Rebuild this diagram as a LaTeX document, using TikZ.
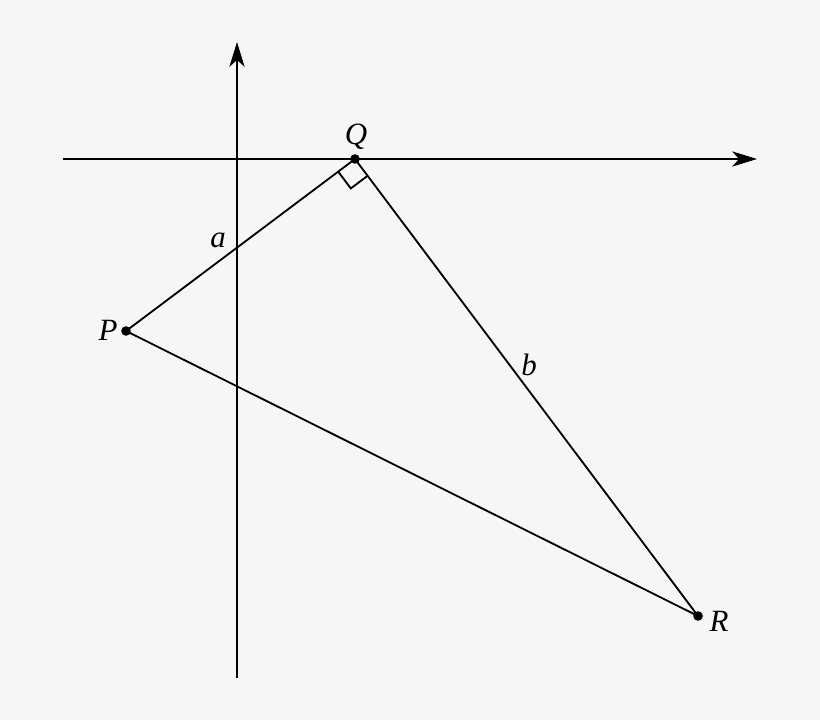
\documentclass[tikz,border=0pt]{standalone}
\usepackage{fontspec}
\setmainfont{Liberation Serif}
\usetikzlibrary{arrows.meta,calc,positioning}
\definecolor{bgcol}{HTML}{F6F6F6}

\begin{document}
\begin{tikzpicture}[x=0.025cm,y=-0.025cm,line width=1.3pt,
  pt/.style={circle,fill,inner sep=0pt,minimum size=0.24cm},
  lbl/.style={font=\fontsize{22}{24}\selectfont\itshape,inner sep=1pt},
  axis/.style={-{Stealth[length=0.62cm,width=0.38cm,inset=0.17cm]}}]
\fill[bgcol] (0,0) rectangle (820,720);
\useasboundingbox (0,0) rectangle (820,720);

% axes
\coordinate (xl) at (63,159);
\coordinate (xr) at (757,159);
\coordinate (yb) at (237,678);
\coordinate (yt) at (237,42);
\draw[axis] (xl) -- (xr);
\draw[axis] (yb) -- (yt);

% triangle
\node[pt] (Q) at (355,159) {};
\node[pt] (P) at (126,331) {};
\node[pt] (R) at (698,616) {};
\draw (P.center) -- (Q.center) -- (R.center) -- cycle;

% right angle at Q
\draw ($(Q.center)!0.525cm!(P.center)$)
  -- ($($(Q.center)!0.525cm!(P.center)$)+($(Q.center)!0.525cm!(R.center)$)-(Q.center)$)
  -- ($(Q.center)!0.525cm!(R.center)$);

% labels
\node[lbl] (lQ) at (356,137) {Q};
\node[lbl] (lP) at (108,330) {P};
\node[lbl] (lR) at (719,621) {R};
\node[lbl] (la) at (218,240) {a};
\node[lbl] (lb) at (529,365) {b};
\end{tikzpicture}
\end{document}
